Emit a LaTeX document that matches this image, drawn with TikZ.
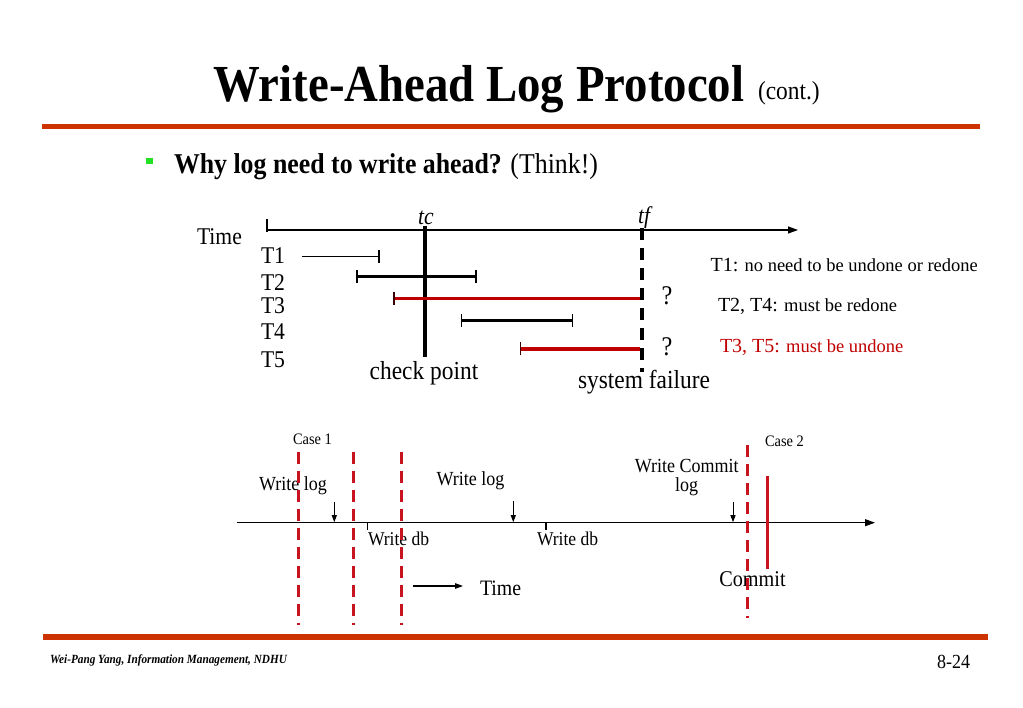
\documentclass[tikz,border=0pt]{standalone}
\usepackage{fontspec}
\setmainfont{Liberation Serif}[FakeStretch=0.9]
\newfontfamily\plainserif{Liberation Serif}
\usetikzlibrary{arrows.meta}
\definecolor{rulecol}{HTML}{CC3300}
\definecolor{darkred}{HTML}{C00000}
\definecolor{dashred}{HTML}{C8141E}
\definecolor{bulletgreen}{HTML}{22E022}
\newcommand\setfs[1]{\fontsize{#1}{#1}\selectfont}
\begin{document}
\begin{tikzpicture}[x=1pt,y=-1pt,
  txt/.style={inner sep=0pt, outer sep=0pt, anchor=base west},
  ctxt/.style={inner sep=0pt, outer sep=0pt, anchor=base},
  axisline/.style={line width=1.1pt, -{Triangle[length=10pt,width=7pt]}},
  tickline/.style={line width=1.1pt},
  thinbar/.style={line width=1pt},
  thickbar/.style={line width=3.5pt},
  redbar/.style={line width=3.5pt, darkred},
  failline/.style={line width=3.5pt, dash pattern=on 12pt off 8pt},
  caseline/.style={line width=3pt, dashred, dash pattern=on 12pt off 7pt},
  downarrow/.style={line width=1pt, -{Triangle[length=7pt,width=5pt]}},
]
\useasboundingbox (0,0) rectangle (1023,708);
\fill[white] (0,0) rectangle (1023,708);

% ---------- title and rules ----------
\node[txt] (title) at (213,101.7) {\setfs{52}\bfseries Write-Ahead Log Protocol};
\node[txt] (cont) at (758,100) {\setfs{26}(cont.)};
\fill[rulecol] (42,124) rectangle (980,129.5);
\fill[rulecol] (42.7,634.3) rectangle (988,640);
\fill[bulletgreen] (146,158) rectangle (152.5,164.5);
\node[txt] (why) at (174,173.3) {\setfs{28.7}\textbf{Why log need to write ahead?} (Think!)};
\node[txt] (footer) at (50,663.3) {\setfs{12.5}\bfseries\itshape Wei-Pang Yang, Information Management, NDHU};
\node[txt] (page) at (937,668) {\setfs{20}8-24};

% ---------- upper diagram ----------
\node[txt] (timeA) at (197,244.3) {\setfs{24}Time};
\node[txt] (tc) at (418,224.3) {\setfs{24}\itshape tc};
\node[txt] (tf) at (638,224) {\setfs{24}\itshape tf};
\node[txt] (lT1) at (261,264) {\setfs{24}T1};
\node[txt] (lT2) at (261,290.7) {\setfs{24}T2};
\node[txt] (lT3) at (261,314) {\setfs{24}T3};
\node[txt] (lT4) at (261,339.3) {\setfs{24}T4};
\node[txt] (lT5) at (261,367.7) {\setfs{24}T5};
\node[ctxt] (cp) at (424,380) {\setfs{26}check point};
\node[ctxt] (sf) at (644,388.3) {\setfs{26}system failure};
\node[txt] (q1) at (661.7,305) {\setfs{27}?};
\node[txt] (q2) at (661.7,356) {\setfs{27}?};
\node[txt] (r1) at (710.7,271.7) {\plainserif\setfs{20}T1:\setfs{18.5} no need to be undone or redone};
\node[txt] (r2) at (718,312) {\plainserif\setfs{20}T2, T4:\setfs{18.5} must be redone};
\node[txt] (r3) at (720,352.5) {\plainserif\color{darkred}\setfs{20}T3, T5:\setfs{18.5} must be undone};

\coordinate (ax0) at (267,230);
\coordinate (ax1) at (798,230);
\coordinate (ax0t) at (267,219.5);
\coordinate (ax0b) at (267,232);
\draw[axisline] (ax0) -- (ax1);
\draw[tickline] (ax0t) -- (ax0b);

\coordinate (cpTop) at (425,225.7);
\coordinate (cpBot) at (425,356.7);
\draw[line width=3.5pt] (cpTop) -- (cpBot);
\coordinate (sfTop) at (642,228);
\coordinate (sfBot) at (642,372);
\draw[failline] (sfTop) -- (sfBot);

% T1
\coordinate (t1a) at (302,256.7);
\coordinate (t1b) at (379,256.7);
\draw[thinbar] (t1a) -- (t1b);
\draw[tickline] ([yshift=-6.5pt]t1b) -- ([yshift=6.5pt]t1b);
% T2
\coordinate (t2a) at (357,276.7);
\coordinate (t2b) at (476,276.7);
\draw[thickbar] (t2a) -- (t2b);
\draw[tickline] ([yshift=-6.5pt]t2a) -- ([yshift=6.5pt]t2a);
\draw[tickline] ([yshift=-6.5pt]t2b) -- ([yshift=6.5pt]t2b);
% T3
\coordinate (t3a) at (394,298.3);
\coordinate (t3b) at (640,298.3);
\draw[redbar] (t3a) -- (t3b);
\draw[tickline, black!70!darkred] ([yshift=-6.5pt]t3a) -- ([yshift=6.5pt]t3a);
% T4
\coordinate (t4a) at (461.7,320.5);
\coordinate (t4b) at (572.7,320.5);
\draw[thickbar] (t4a) -- (t4b);
\draw[tickline] ([yshift=-6.5pt]t4a) -- ([yshift=6.5pt]t4a);
\draw[tickline] ([yshift=-6.5pt]t4b) -- ([yshift=6.5pt]t4b);
% T5
\coordinate (t5a) at (520.7,349);
\coordinate (t5b) at (640,349);
\draw[redbar] (t5a) -- (t5b);
\draw[tickline, black!70!darkred] ([yshift=-6.5pt]t5a) -- ([yshift=6.5pt]t5a);

% ---------- lower diagram ----------
\node[txt] (case1) at (293,444.3) {\setfs{16}Case 1};
\node[txt] (case2) at (765,446.7) {\setfs{16}Case 2};
\node[txt] (wl1) at (259,490) {\setfs{20}Write log};
\node[txt] (wl2) at (436.7,485) {\setfs{20}Write log};
\node[txt] (wd1) at (368,545) {\setfs{19.5}Write db};
\node[txt] (wd2) at (537,545) {\setfs{19.5}Write db};
\node[ctxt] (wc1) at (686.7,472.3) {\setfs{20}Write Commit};
\node[ctxt] (wc2) at (686.7,491.7) {\setfs{20}log};
\node[txt] (timeB) at (480,595) {\setfs{22}Time};
\node[txt] (commit) at (719.3,586.7) {\setfs{22.5}Commit};

\coordinate (bx0) at (236.7,522.7);
\coordinate (bx1) at (875,522.7);
\draw[axisline] (bx0) -- (bx1);
\coordinate (tk1) at (367.7,522.7);
\coordinate (tk2) at (546,522.7);
\draw[tickline] (tk1) -- ++(0,7);
\draw[tickline] (tk2) -- ++(0,7);

\coordinate (a1s) at (334.3,501.7);
\coordinate (a1e) at (334.3,522.2);
\coordinate (a2s) at (513.3,501);
\coordinate (a2e) at (513.3,522.2);
\coordinate (a3s) at (733,501.7);
\coordinate (a3e) at (733,522.2);
\draw[downarrow] (a1s) -- (a1e);
\draw[downarrow] (a2s) -- (a2e);
\draw[downarrow] (a3s) -- (a3e);

\coordinate (c1s) at (298.3,451.7);
\coordinate (c1e) at (298.3,625);
\coordinate (c2s) at (353.7,451.7);
\coordinate (c2e) at (353.7,625);
\coordinate (c3s) at (401,451.7);
\coordinate (c3e) at (401,625);
\coordinate (c4s) at (747.3,445);
\coordinate (c4e) at (747.3,618);
\draw[caseline] (c1s) -- (c1e);
\draw[caseline] (c2s) -- (c2e);
\draw[caseline] (c3s) -- (c3e);
\draw[caseline] (c4s) -- (c4e);

\coordinate (cmTop) at (767.3,475.7);
\coordinate (cmBot) at (767.3,569);
\draw[line width=3pt, dashred] (cmTop) -- (cmBot);

\coordinate (ta0) at (413.3,586);
\coordinate (ta1) at (463,586);
\draw[line width=1.1pt, -{Triangle[length=8pt,width=5.5pt]}] (ta0) -- (ta1);
\end{tikzpicture}
\end{document}
